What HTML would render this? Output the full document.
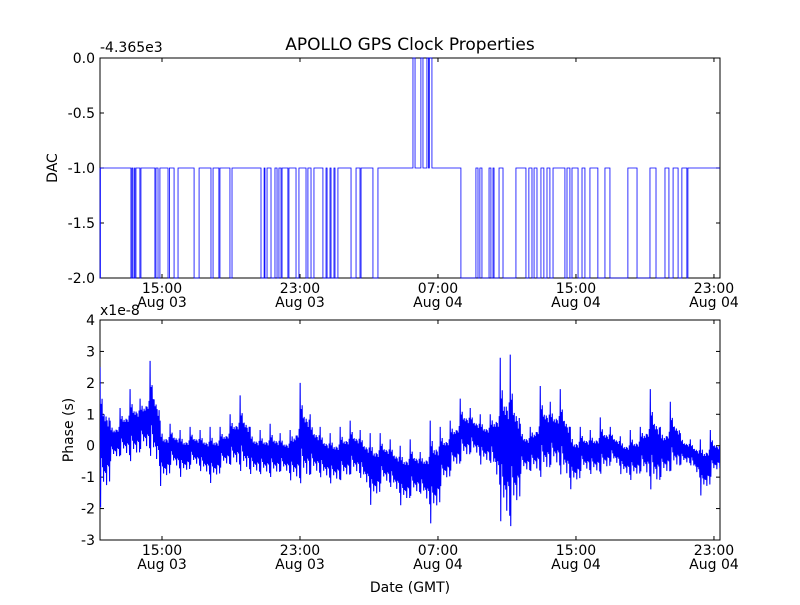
<!DOCTYPE html>
<html><head><meta charset="utf-8"><style>
body{margin:0;background:#fff;}
svg text{font-family:"DejaVu Sans","Liberation Sans",sans-serif;fill:#000;}
</style></head><body>
<svg id="chart" width="800" height="600" xmlns="http://www.w3.org/2000/svg">
<rect width="800" height="600" fill="#fff"/>
<text x="410" y="50" font-size="17" text-anchor="middle">APOLLO GPS Clock Properties</text>
<g id="top"></g><g id="bot"></g>
</svg>
<script>
const xTickHours=[15,23,31,39,47];
const xTickTimes=["15:00","23:00","07:00","15:00","23:00"];
const xTickDates=["Aug 03","Aug 03","Aug 04","Aug 04","Aug 04"];
const dacTicks=[0,-0.5,-1,-1.5,-2];
const dacTickLabels=["0.0","-0.5","-1.0","-1.5","-2.0"];
const phaseTicks=[4,3,2,1,0,-1,-2,-3];
const phaseTickLabels=["4","3","2","1","0","-1","-2","-3"];
const dacLowStart=[11.41,13.20,13.32,13.43,13.72,14.59,14.77,15.35,15.70,16.86,17.84,18.30,18.94,20.74,20.97,21.32,21.67,21.90,22.30,22.77,23.35,23.64,24.33,24.57,24.80,25.03,25.96,26.48,27.23,32.33,33.32,33.55,34.07,34.25,34.77,36.10,36.45,36.74,37.14,37.49,38.36,38.65,39.12,39.52,40.27,40.97,42.54,43.64,44.39,44.92,45.43];
const dacLowEnd=[11.43,13.26,13.41,13.49,13.78,14.65,14.88,15.43,15.93,17.15,17.96,18.36,19.06,20.92,21.09,21.55,21.78,21.96,22.36,22.94,23.46,23.81,24.51,24.74,24.97,25.20,26.25,26.54,27.52,33.20,33.43,33.96,34.19,34.54,35.52,36.27,36.57,36.97,37.32,37.67,38.48,38.77,39.35,39.81,40.68,42.01,43.29,44.16,44.63,45.14,45.49];
const dacHighStart=[29.55,30.01,30.36,30.50];
const dacHighEnd=[29.67,30.13,30.45,30.65];
const phaseT=[11.41,11.99,12.57,13.15,13.73,14.31,14.89,15.47,16.05,16.63,17.21,17.79,18.37,18.95,19.53,20.11,20.69,21.27,21.85,22.43,23.01,23.59,24.17,24.75,25.33,25.91,26.49,27.07,27.65,28.23,28.81,29.39,29.97,30.55,31.13,31.71,32.29,32.87,33.45,34.03,34.61,35.19,35.77,36.35,36.93,37.51,38.09,38.67,39.25,39.83,40.41,40.99,41.57,42.15,42.73,43.31,43.89,44.47,45.05,45.63,46.21,46.79,47.37];
const phaseHi=[2.5,0.8,1.2,1.8,1.5,2.7,0.8,0.7,0.5,0.6,0.5,0.6,0.6,1.0,1.6,0.6,0.5,0.7,0.4,0.5,2.0,1.0,0.6,0.4,0.6,0.8,0.5,0.4,0.4,0.2,0.0,0.2,-0.2,0.8,0.6,0.8,1.5,1.2,1.0,1.0,2.8,2.9,0.7,0.6,1.9,1.4,1.8,0.6,0.6,0.5,0.9,0.6,0.3,0.5,0.6,1.8,0.6,1.4,0.4,0.2,0.2,0.5,0.0];
const phaseLo=[-2.0,-0.5,-0.3,-0.5,-0.1,-0.3,-1.3,-0.6,-1.0,-0.6,-0.8,-1.2,-0.7,-0.6,-0.8,-0.9,-0.9,-1.0,-0.8,-1.1,-1.2,-0.9,-1.0,-1.2,-1.1,-0.9,-1.0,-1.9,-1.2,-1.3,-1.9,-1.6,-1.5,-2.5,-1.3,-0.8,-0.5,-0.2,-0.6,-0.5,-2.4,-2.6,-0.9,-0.8,-1.0,-0.6,-0.9,-1.4,-0.8,-0.9,-0.9,-0.5,-0.9,-1.1,-0.8,-1.4,-1.0,-0.8,-0.6,-0.6,-1.6,-1.0,-0.5];

const NS="http://www.w3.org/2000/svg";
const X0=100,X1=720,T0=11.406,T1=47.35;
const xs=t=>X0+(t-T0)*(X1-X0)/(T1-T0);
function el(p,tag,a){const e=document.createElementNS(NS,tag);for(const k in a)e.setAttribute(k,a[k]);p.appendChild(e);return e;}
function txt(p,x,y,s,anchor,size){const e=el(p,'text',{x:x,y:y,'font-size':size||14,'text-anchor':anchor||'middle'});e.textContent=s;return e;}

function axes(g,top,bot,yMax,yMin,ticks,labels,name){
  const ys=v=>top+(yMax-v)*(bot-top)/(yMax-yMin);
  const fr=el(g,'rect',{x:X0,y:top,width:X1-X0,height:bot-top,fill:'none',stroke:'#000','stroke-width':1});
  
  
  ticks.forEach((v,i)=>{
    const y=ys(v);
    el(g,'line',{x1:X0,x2:X0+4,y1:y,y2:y,stroke:'#000'});
    el(g,'line',{x1:X1-4,x2:X1,y1:y,y2:y,stroke:'#000'});
    const t=txt(g,95,y+5,labels[i],'end',14);
    
    
  });
  xTickHours.forEach((h,i)=>{
    const x=xs(h);
    el(g,'line',{x1:x,x2:x,y1:bot,y2:bot-4,stroke:'#000'});
    el(g,'line',{x1:x,x2:x,y1:top,y2:top+4,stroke:'#000'});
    const a=txt(g,x,bot+15,xTickTimes[i],'middle',14);
    
    
    const b=txt(g,x,bot+29,xTickDates[i],'middle',14);
    
    
  });
  return ys;
}

// top DAC chart
const gt=document.getElementById('top');
const ysT=axes(gt,58,278,0,-2,dacTicks,dacTickLabels,'dac');
let ev=[];
dacLowStart.forEach((s,i)=>ev.push([s,dacLowEnd[i],-2]));
dacHighStart.forEach((s,i)=>ev.push([s,dacHighEnd[i],0]));
ev.sort((a,b)=>a[0]-b[0]);
let d='M'+xs(T0)+' '+ysT(-1);
ev.forEach(e=>{d+=' H'+xs(e[0]).toFixed(2)+' V'+ysT(e[2])+' H'+xs(e[1]).toFixed(2)+' V'+ysT(-1);});
d+=' H'+X1;
const dl=el(gt,'path',{d:d,fill:'none',stroke:'#0000ff','stroke-width':0.8});


const o1=txt(gt,100,52,'-4.365e3','start',14);


const yl1=txt(gt,0,0,'DAC','middle',14);
yl1.setAttribute('transform','translate(57,168) rotate(-90)');



// bottom phase chart
const gb=document.getElementById('bot');
const ysB=axes(gb,320,540,4,-3,phaseTicks,phaseTickLabels,'phase');
const amp=[1,1,0.5,0.3,0.6,0.45,0.35,0.7,0.4,0.55,0.3,0.6,0.4,0.85,0.35,0.5,0.25,0.55,0.45,0.9];
let pts=[];
for(let i=0;i<phaseT.length-1;i++){
  const hi=phaseHi[i],lo=phaseLo[i];
  const hn=phaseHi[i+1],ln=phaseLo[i+1];
  for(let k=0;k<amp.length;k++){
    const f=k/amp.length;
    const h=hi+(hn-hi)*f*0.5, l=lo+(ln-lo)*f*0.5;
    const c=l+0.5*(h-l);
    const t=phaseT[i]+(phaseT[i+1]-phaseT[i])*f;
    const a=(k<2)?1:amp[k];
    const v=(k%2===0)?c+a*(h-c):c-a*(c-l);
    pts.push(xs(t).toFixed(2)+','+ysB(v).toFixed(2));
  }
}
pts.push(xs(T1).toFixed(2)+','+ysB((phaseHi[phaseHi.length-1]+phaseLo[phaseLo.length-1])/2).toFixed(2));
const cp=el(gb,'clipPath',{id:'cb'});el(cp,'rect',{x:X0,y:320,width:X1-X0,height:220});
const pl=el(gb,'polyline',{points:pts.join(' '),fill:'none',stroke:'#0000ff','stroke-width':1.1,'clip-path':'url(#cb)'});


const o2=txt(gb,100,315,'x1e-8','start',14);


const yl2=txt(gb,0,0,'Phase (s)','middle',14);
yl2.setAttribute('transform','translate(73,430) rotate(-90)');


const xl=txt(gb,410,592,'Date (GMT)','middle',14);


</script>
</body></html>
